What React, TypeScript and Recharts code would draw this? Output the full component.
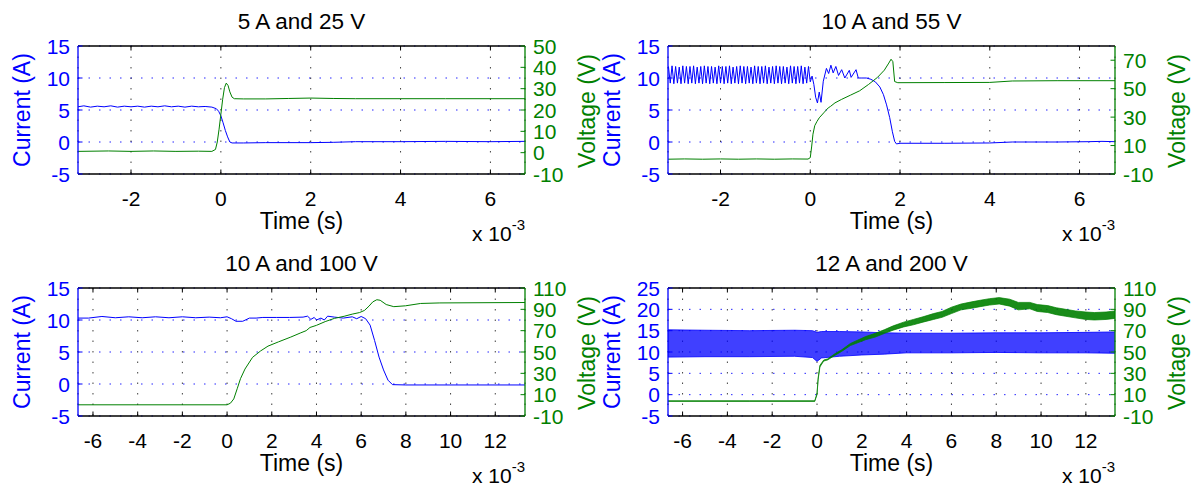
import React from 'react';
import { ComposedChart, Line, Area, XAxis, YAxis, CartesianGrid } from 'recharts';

const BLUE = '#0000ff';
const GREEN = '#008000';
const FONT = '"Liberation Sans", Arial, Helvetica, sans-serif';

// ---------- titles & ticks ----------
const titles = ['5 A and 25 V', '10 A and 55 V', '10 A and 100 V', '12 A and 200 V'];
const xTicksShort = [-2, 0, 2, 4, 6];
const xTicksLong = [-6, -4, -2, 0, 2, 4, 6, 8, 10, 12];
const iTicks15 = [-5, 0, 5, 10, 15];
const iTicks25 = [-5, 0, 5, 10, 15, 20, 25];
const vTicks50 = [-10, 0, 10, 20, 30, 40, 50];
const vTicks80 = [-10, 10, 30, 50, 70];
const vTicks110 = [-10, 10, 30, 50, 70, 90, 110];

// ---------- panel 1: 5 A and 25 V (time in ms) ----------
const p1CurT = [-3.18, -3.05, -2.9, -2.75, -2.6, -2.45, -2.3, -2.15, -2.0, -1.85, -1.7, -1.55, -1.4, -1.25, -1.1, -0.95, -0.8, -0.65, -0.5, -0.35, -0.2, -0.1, -0.05, 0, 0.05, 0.1, 0.15, 0.2, 0.25, 0.5, 1, 2, 2.5, 3, 4, 5, 6, 6.77];
const p1CurI = [5.5, 5.65, 5.45, 5.6, 5.5, 5.65, 5.45, 5.6, 5.5, 5.6, 5.45, 5.6, 5.5, 5.65, 5.5, 5.6, 5.45, 5.6, 5.5, 5.55, 5.45, 5.2, 4.8, 4.1, 3.0, 1.8, 0.8, 0.0, -0.15, -0.15, -0.1, -0.1, -0.05, 0.05, 0.05, 0.1, 0.05, 0.1];
const p1VolT = [-3.18, -2.5, -2.0, -1.5, -1.0, -0.5, -0.2, -0.12, -0.08, -0.04, 0, 0.04, 0.08, 0.12, 0.16, 0.2, 0.25, 0.3, 0.5, 1.0, 1.5, 2.0, 2.5, 3, 4, 5, 6.77];
const p1VolV = [0.6, 0.8, 0.6, 0.8, 0.6, 0.7, 0.6, 1.5, 5, 11, 18, 25, 30.5, 32.6, 31.5, 28.5, 26, 25.3, 25.2, 25.2, 25.4, 25.6, 25.4, 25.3, 25.3, 25.3, 25.3];

// ---------- panel 2: 10 A and 55 V ----------
const p2CurT = [
  -3.16, -3.12, -3.08, -3.04, -3.0, -2.96, -2.92, -2.88, -2.84, -2.8, -2.76, -2.72, -2.68, -2.64, -2.6, -2.56, -2.52, -2.48, -2.44, -2.4,
  -2.36, -2.32, -2.28, -2.24, -2.2, -2.16, -2.12, -2.08, -2.04, -2.0, -1.96, -1.92, -1.88, -1.84, -1.8, -1.76, -1.72, -1.68, -1.64, -1.6,
  -1.56, -1.52, -1.48, -1.44, -1.4, -1.36, -1.32, -1.28, -1.24, -1.2, -1.16, -1.12, -1.08, -1.04, -1.0, -0.96, -0.92, -0.88, -0.84, -0.8,
  -0.76, -0.72, -0.68, -0.64, -0.6, -0.56, -0.52, -0.48, -0.44, -0.4, -0.36, -0.32, -0.28, -0.24, -0.2, -0.16, -0.12, -0.08, -0.04, 0.0,
  0.04, 0.08, 0.12, 0.16, 0.2, 0.24, 0.29, 0.36, 0.41, 0.46, 0.51, 0.57, 0.63, 0.7, 0.77, 0.87, 0.91, 1.02, 1.07, 1.15,
  1.25, 1.35, 1.45, 1.55, 1.63, 1.7, 1.77, 1.83, 1.88, 1.92, 2.0, 3.0, 4.0, 4.5, 5.5, 6.2, 6.5, 6.79,
];
const p2CurI = [
  11.8, 9.2, 11.9, 9.1, 11.8, 9.2, 11.7, 9.1, 11.9, 9.2, 11.8, 9.1, 11.8, 9.2, 11.9, 9.1, 11.7, 9.2, 11.8, 9.1,
  11.9, 9.2, 11.8, 9.1, 11.8, 9.2, 11.7, 9.1, 11.9, 9.2, 11.8, 9.1, 11.8, 9.2, 11.9, 9.1, 11.7, 9.2, 11.8, 9.1,
  11.9, 9.2, 11.8, 9.1, 11.8, 9.2, 11.7, 9.1, 11.9, 9.2, 11.8, 9.1, 11.8, 9.2, 11.9, 9.1, 11.7, 9.2, 11.8, 9.1,
  11.9, 9.2, 11.8, 9.1, 11.8, 9.2, 11.7, 9.1, 11.9, 9.2, 11.8, 9.1, 11.8, 9.2, 11.9, 9.1, 11.7, 9.2, 11.8, 9.4,
  10.3, 9.0, 7.0, 6.1, 7.8, 6.2, 9.5, 11.5, 10.7, 12.0, 10.8, 11.8, 10.4, 11.3, 10.0, 11.2, 10.1, 11.3, 10.0, 10.0,
  10.0, 9.8, 9.4, 8.6, 7.4, 5.8, 3.8, 1.6, 0.1, -0.3, -0.2, -0.2, -0.15, 0.0, 0.0, 0.05, 0.1, 0.05,
];
const p2VolT = [-3.17, -2.8, -2.4, -2.0, -1.6, -1.2, -0.8, -0.4, -0.05, 0.0, 0.03, 0.06, 0.1, 0.15, 0.2, 0.3, 0.4, 0.45, 0.55, 0.7, 0.9, 1.1, 1.3, 1.5, 1.65, 1.75, 1.8, 1.84, 1.88, 1.95, 3.0, 4.0, 4.5, 5.5, 6.79];
const p2VolV = [0.4, 0.6, 0.4, 0.6, 0.4, 0.6, 0.4, 0.6, 0.5, 1.5, 9, 18, 24, 27, 29.5, 33, 36.5, 37.5, 40, 42.5, 45.5, 48.5, 53, 58, 63, 68, 70.7, 69, 55, 54.2, 54.3, 54.4, 55.4, 55.6, 55.6];

// ---------- panel 3: 10 A and 100 V ----------
const p3CurT = [-6.67, -6.2, -5.6, -5.0, -4.4, -3.8, -3.2, -2.6, -2.0, -1.4, -0.8, -0.3, 0.0, 0.2, 0.4, 0.7, 1.0, 1.3, 1.6, 2.2, 2.8, 3.4, 3.6, 3.75, 3.9, 4.0, 4.2, 4.35, 4.5, 4.8, 5.2, 5.6, 5.8, 6.0, 6.2, 6.4, 6.6, 6.8, 7.0, 7.2, 7.4, 8, 13.33];
const p3CurI = [10.3, 10.3, 10.55, 10.35, 10.5, 10.35, 10.5, 10.35, 10.5, 10.35, 10.45, 10.35, 10.5, 10.2, 9.8, 9.8, 10.3, 10.3, 10.4, 10.4, 10.4, 10.45, 10.6, 10.1, 10.4, 10.0, 10.3, 10.0, 10.6, 10.45, 10.3, 10.5, 10.2, 10.55, 10.2, 9.2, 6.8, 4.2, 2.2, 0.6, -0.1, -0.15, -0.15];
const p3VolT = [-6.67, 0, 0.15, 0.3, 0.46, 0.6, 0.8, 1.14, 1.5, 1.83, 2.3, 2.85, 3.3, 3.54, 3.71, 4.0, 4.39, 4.8, 5.24, 5.6, 5.93, 6.15, 6.35, 6.52, 6.7, 6.85, 7.12, 7.46, 7.98, 8.66, 9.52, 13.33];
const p3VolV = [0.5, 0.5, 2, 6, 16, 25, 34, 45, 51, 55.5, 59.5, 64, 68, 70, 73, 75, 78.5, 81.5, 83.5, 85.5, 87, 89, 93, 97, 99, 98.5, 94.5, 92.5, 93.3, 95.5, 96, 96.4];

// ---------- panel 4: 12 A and 200 V (noisy signals as envelopes) ----------
const p4CurT = [-6.65, -5, -3, -1, -0.2, 0, 0.2, 1, 2, 3, 4, 6, 8, 10, 12, 13.3];
const p4CurLo = [8.8, 8.9, 8.9, 9.0, 8.7, 7.8, 8.6, 9.0, 9.3, 9.5, 9.8, 9.8, 9.9, 9.8, 9.8, 9.7];
const p4CurHi = [15.2, 15.1, 15.0, 15.1, 15.0, 14.6, 14.8, 14.8, 14.7, 14.5, 14.4, 14.4, 14.5, 14.5, 14.6, 14.7];
const p4VolT = [-6.65, -3, -0.1, 0.0, 0.05, 0.13, 0.3, 0.47, 0.81, 1.1, 1.49, 2.17, 2.6, 3.02, 3.4, 3.87, 4.3, 4.73, 5.2, 5.58, 6.0, 6.43, 6.9, 7.28, 7.7, 8.13, 8.6, 8.98, 9.5, 9.83, 10.3, 10.68, 11.1, 11.53, 12.0, 12.38, 12.9, 13.3];
const p4VolLo = [3.7, 3.7, 3.7, 10, 24, 36, 41.5, 42.5, 47, 50.5, 56, 61.5, 64, 67.5, 70.5, 73.5, 75.5, 78, 80.5, 82.5, 86, 89.5, 91, 92.5, 94, 95, 93, 89.5, 90.5, 88, 87, 85, 83.5, 82, 80.5, 80, 80.5, 81.5];
const p4VolHi = [4.3, 4.3, 4.3, 11, 25.5, 37.5, 42.5, 43.5, 48.5, 52, 58, 64.5, 67.5, 71, 74.5, 78, 80.5, 83, 86, 88, 92, 95, 97, 98.5, 100, 101, 99.5, 96.5, 96.5, 94.5, 93.5, 91.5, 90, 88.5, 87.5, 87, 87.5, 88.5];

type Pt = { t: number; y: number };
type Band = { t: number; lo: number; hi: number };
const zip = (t: number[], y: number[]): Pt[] => t.map((tt, k) => ({ t: tt, y: y[k] }));
const zipBand = (t: number[], lo: number[], hi: number[]): Band[] =>
  t.map((tt, k) => ({ t: tt, lo: lo[k], hi: hi[k] }));

const TICK_FS = 21;
const TL = 4.5;
// recharts default tickSize (6) + tickMargin (2)
const OFF = 8;

const bottomTick = (props: any) => {
  const { x, y, payload } = props;
  const ay = y - OFF;
  return (
    <g>
      <line x1={x} y1={ay} x2={x} y2={ay - TL} stroke="#000" strokeWidth={1} />
      <text x={x} y={ay + 32} textAnchor="middle" fill="#000" fontSize={TICK_FS} fontFamily={FONT}>
        {payload.value}
      </text>
    </g>
  );
};
const topTick = (props: any) => {
  const { x, y } = props;
  const ay = y + OFF;
  return <line x1={x} y1={ay} x2={x} y2={ay + TL} stroke="#000" strokeWidth={1} />;
};
const leftTick = (props: any) => {
  const { x, y, payload } = props;
  const ax = x + OFF;
  return (
    <g>
      <line x1={ax} y1={y} x2={ax + TL} y2={y} stroke={BLUE} strokeWidth={1} />
      <text x={ax - 8} y={y + 7.5} textAnchor="end" fill={BLUE} fontSize={TICK_FS} fontFamily={FONT}>
        {payload.value}
      </text>
    </g>
  );
};
const rightTick = (props: any) => {
  const { x, y, payload } = props;
  const ax = x - OFF;
  return (
    <g>
      <line x1={ax} y1={y} x2={ax - TL} y2={y} stroke={GREEN} strokeWidth={1} />
      <text x={ax + 8} y={y + 7.5} textAnchor="start" fill={GREEN} fontSize={TICK_FS} fontFamily={FONT}>
        {payload.value}
      </text>
    </g>
  );
};

type PanelProps = {
  left: number;
  top: number;
  xDomain: [number, number];
  xTicks: number[];
  iDomain: [number, number];
  iTicks: number[];
  vDomain: [number, number];
  vTicks: number[];
  current?: Pt[];
  voltage?: Pt[];
  currentBand?: Band[];
  voltageBand?: Band[];
};

const CW = 600;
const CH = 242;
// plot box: x 78..525, y 46..174
const PLOT = { top: 46, right: 75, bottom: 68, left: 78 };
const YW = 40; // y-axis width
const XBH = 20; // bottom x-axis height
const XTH = 10; // top x-axis height
const M = { top: PLOT.top - XTH, right: PLOT.right - YW, bottom: PLOT.bottom - XBH, left: PLOT.left - YW };

function Panel(p: PanelProps) {
  return (
    <div style={{ position: 'absolute', left: p.left, top: p.top }}>
      <ComposedChart width={CW} height={CH} margin={M}>
        <CartesianGrid xAxisId="b" yAxisId="i" vertical={false} stroke={BLUE} strokeOpacity={0.85} strokeDasharray="1.5 9" />
        <CartesianGrid xAxisId="b" yAxisId="i" horizontal={false} stroke="#000" strokeOpacity={0.75} strokeDasharray="1.5 9" />
        <XAxis xAxisId="b" orientation="bottom" type="number" dataKey="t" domain={p.xDomain} ticks={p.xTicks} allowDataOverflow interval={0} height={XBH} tickLine={false} axisLine={{ stroke: '#000', strokeWidth: 1.3 }} tick={bottomTick} />
        <XAxis xAxisId="t" orientation="top" type="number" dataKey="t" domain={p.xDomain} ticks={p.xTicks} allowDataOverflow interval={0} height={XTH} tickLine={false} axisLine={{ stroke: '#000', strokeWidth: 1.3 }} tick={topTick} />
        <YAxis yAxisId="i" orientation="left" type="number" domain={p.iDomain} ticks={p.iTicks} allowDataOverflow interval={0} width={YW} tickLine={false} axisLine={{ stroke: BLUE, strokeWidth: 1.3 }} tick={leftTick} />
        <YAxis yAxisId="v" orientation="right" type="number" domain={p.vDomain} ticks={p.vTicks} allowDataOverflow interval={0} width={YW} tickLine={false} axisLine={{ stroke: GREEN, strokeWidth: 1.3 }} tick={rightTick} />
        {p.current && (
          <Line data={p.current} dataKey="y" xAxisId="b" yAxisId="i" type="linear" stroke={BLUE} strokeWidth={1} dot={false} activeDot={false} isAnimationActive={false} />
        )}
        {p.currentBand && (
          <Area data={p.currentBand} dataKey={(d: Band) => [d.lo, d.hi]} xAxisId="b" yAxisId="i" type="linear" stroke={BLUE} strokeWidth={0.8} fill={BLUE} fillOpacity={0.75} dot={false} activeDot={false} isAnimationActive={false} />
        )}
        {p.voltage && (
          <Line data={p.voltage} dataKey="y" xAxisId="b" yAxisId="v" type="linear" stroke={GREEN} strokeWidth={1} dot={false} activeDot={false} isAnimationActive={false} />
        )}
        {p.voltageBand && (
          <Area data={p.voltageBand} dataKey={(d: Band) => [d.lo, d.hi]} xAxisId="b" yAxisId="v" type="linear" stroke={GREEN} strokeWidth={0.7} fill={GREEN} fillOpacity={0.9} dot={false} activeDot={false} isAnimationActive={false} />
        )}
      </ComposedChart>
    </div>
  );
}

const origins = [
  { left: 0, top: 0 },
  { left: 590, top: 0 },
  { left: 0, top: 242 },
  { left: 590, top: 242 },
];

function Labels() {
  const plotCx = PLOT.left + (CW - PLOT.left - PLOT.right) / 2;
  const plotRight = CW - PLOT.right;
  return (
    <svg width={1197} height={489} style={{ position: 'absolute', left: 0, top: 0, pointerEvents: 'none' }} fontFamily={FONT}>
      {origins.map((o, k) => (
        <g key={k} transform={`translate(${o.left},${o.top})`}>
          <text x={plotCx} y={29} textAnchor="middle" fontSize={22.5} fill="#000">{titles[k]}</text>
          <text transform="translate(30,110) rotate(-90)" textAnchor="middle" fontSize={23} fill={BLUE}>Current (A)</text>
          <text transform="translate(595,111) rotate(-90)" textAnchor="middle" fontSize={23} fill={GREEN}>Voltage (V)</text>
          <text x={plotCx} y={229} textAnchor="middle" fontSize={23} fill="#000">Time (s)</text>
          <text x={plotRight} y={241} textAnchor="end" fontSize={21} fill="#000">
            <tspan>x 10</tspan>
            <tspan dy={-11} fontSize={15}>-3</tspan>
          </text>
        </g>
      ))}
    </svg>
  );
}

export default function App() {
  return (
    <div style={{ position: 'relative', width: 1197, height: 489, background: '#fff', overflow: 'hidden' }}>
      <style>{`body{margin:0;background:#fff;}`}</style>
      <Panel
        {...origins[0]}
        xDomain={[-3.18, 6.77]}
        xTicks={xTicksShort}
        iDomain={[-5, 15]}
        iTicks={iTicks15}
        vDomain={[-10, 50]}
        vTicks={vTicks50}
        current={zip(p1CurT, p1CurI)}
        voltage={zip(p1VolT, p1VolV)}
      />
      <Panel
        {...origins[1]}
        xDomain={[-3.17, 6.79]}
        xTicks={xTicksShort}
        iDomain={[-5, 15]}
        iTicks={iTicks15}
        vDomain={[-10, 80]}
        vTicks={vTicks80}
        current={zip(p2CurT, p2CurI)}
        voltage={zip(p2VolT, p2VolV)}
      />
      <Panel
        {...origins[2]}
        xDomain={[-6.67, 13.33]}
        xTicks={xTicksLong}
        iDomain={[-5, 15]}
        iTicks={iTicks15}
        vDomain={[-10, 110]}
        vTicks={vTicks110}
        current={zip(p3CurT, p3CurI)}
        voltage={zip(p3VolT, p3VolV)}
      />
      <Panel
        {...origins[3]}
        xDomain={[-6.65, 13.3]}
        xTicks={xTicksLong}
        iDomain={[-5, 25]}
        iTicks={iTicks25}
        vDomain={[-10, 110]}
        vTicks={vTicks110}
        currentBand={zipBand(p4CurT, p4CurLo, p4CurHi)}
        voltageBand={zipBand(p4VolT, p4VolLo, p4VolHi)}
      />
      <Labels />
    </div>
  );
}
